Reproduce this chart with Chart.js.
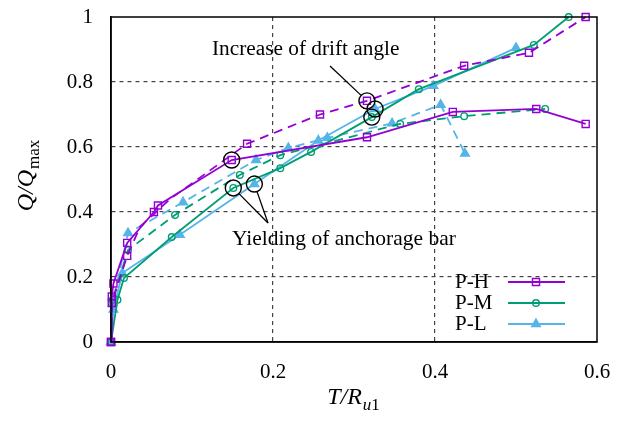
<!DOCTYPE html>
<html lang="en">
<head>
<meta charset="UTF-8">
<title>Q/Qmax vs T/Ru1</title>
<script src="https://cdn.jsdelivr.net/npm/chart.js"></script>
<style>
  html, body { margin: 0; padding: 0; background: #fff; }
  #wrap { width: 624px; height: 421px; }
</style>
</head>
<body>
<div id="wrap"><canvas id="myChart" width="624" height="421"></canvas></div>
<script>
// data: [T/Ru1, Q/Qmax]
const hPos = [[0,0],[0.001,0.14],[0.003,0.18],[0.02,0.305],[0.053,0.40],[0.058,0.42],[0.149,0.56],[0.316,0.63],[0.422,0.708],[0.525,0.717],[0.586,0.671]];
const hNeg = [[0,0],[0.001,0.12],[0.02,0.265],[0.036,0.355],[0.073,0.44],[0.168,0.61],[0.258,0.70],[0.316,0.742],[0.436,0.85],[0.516,0.89],[0.586,1.0]];
const mPos = [[0,0],[0.008,0.13],[0.016,0.197],[0.075,0.323],[0.151,0.474],[0.209,0.535],[0.247,0.585],[0.322,0.692],[0.38,0.778],[0.522,0.914],[0.565,1.0]];
const mNeg = [[0,0],[0.002,0.13],[0.021,0.283],[0.079,0.391],[0.159,0.514],[0.209,0.575],[0.357,0.671],[0.436,0.695],[0.536,0.717]];
const lPos = [[0,0],[0.003,0.10],[0.014,0.212],[0.085,0.33],[0.177,0.486],[0.256,0.62],[0.326,0.717],[0.398,0.788],[0.5,0.905]];
const lNeg = [[0,0],[0.002,0.12],[0.021,0.335],[0.089,0.43],[0.179,0.56],[0.219,0.597],[0.267,0.628],[0.347,0.673],[0.407,0.73],[0.437,0.58]];
// dashed P-H points drawn without marker
const hNegNoMark = [3, 4];

const names = ['P-H', 'P-M', 'P-L'];
const xTicks = [0, 0.2, 0.4, 0.6];
const yTicks = [0, 0.2, 0.4, 0.6, 0.8, 1];

// annotated points
const yieldPts = [[0.149,0.56],[0.151,0.474],[0.177,0.486]];
const driftPts = [[0.316,0.742],[0.326,0.717],[0.322,0.692]];
const yieldText = 'Yielding of anchorage bar';
const driftText = 'Increase of drift angle';

const colors = ['#9400d3', '#009e73', '#56b4e9'];
const marks = ['rect', 'circle', 'triangle'];
const serif = '"Liberation Serif", "Times New Roman", serif';

function toXY(arr) { return arr.map(p => ({x: p[0], y: p[1]})); }

function markSize(i) { return marks[i] === 'rect' ? 5 : marks[i] === 'circle' ? 3.3 : 5; }

function makeSet(arr, i, dashed, noMark) {
  const filled = marks[i] === 'triangle';
  return {
    label: names[i] + (dashed ? ' neg' : ''),
    data: toXY(arr),
    showLine: true,
    borderColor: colors[i],
    borderWidth: 1.8,
    borderDash: dashed ? [9, 6] : [],
    pointStyle: marks[i],
    pointRadius: noMark ? (c => noMark.includes(c.dataIndex) ? 0 : markSize(i)) : markSize(i),
    pointBorderWidth: 1.4,
    pointBorderColor: colors[i],
    pointBackgroundColor: filled ? colors[i] : 'rgba(0,0,0,0)',
    clip: false
  };
}

const extras = {
  id: 'extras',
  afterDraw(chart) {
    const ctx = chart.ctx;
    const a = chart.chartArea;
    const xs = chart.scales.x, ys = chart.scales.y;
    ctx.save();
    // top & right frame
    ctx.strokeStyle = '#000';
    ctx.lineWidth = 1.5;
    ctx.strokeRect(a.left, a.top, a.right - a.left, a.bottom - a.top);

    // annotation circles
    ctx.lineWidth = 1.4;
    const circ = [];
    yieldPts.concat(driftPts).forEach(p => {
      const cx = xs.getPixelForValue(p[0]), cy = ys.getPixelForValue(p[1]);
      circ.push([cx, cy]);
      ctx.beginPath();
      ctx.arc(cx, cy, 8, 0, Math.PI * 2);
      ctx.stroke();
    });
    // pointer lines
    ctx.lineWidth = 1.3;
    const yBase = [268, 223];
    [circ[1], circ[2]].forEach(c => {
      const dx = c[0] - yBase[0], dy = c[1] - yBase[1];
      const d = Math.hypot(dx, dy);
      ctx.beginPath();
      ctx.moveTo(yBase[0], yBase[1]);
      ctx.lineTo(c[0] - dx / d * 8, c[1] - dy / d * 8);
      ctx.stroke();
    });
    const dc = circ[3];
    const dBase = [330, 66];
    {
      const dx = dc[0] - dBase[0], dy = dc[1] - dBase[1];
      const d = Math.hypot(dx, dy);
      ctx.beginPath();
      ctx.moveTo(dBase[0], dBase[1]);
      ctx.lineTo(dc[0] - dx / d * 8, dc[1] - dy / d * 8);
      ctx.stroke();
    }
    ctx.fillStyle = '#000';
    ctx.textAlign = 'left';
    ctx.textBaseline = 'middle';
    ctx.font = '21.3px ' + serif;
    ctx.fillText(driftText, 212, 49);
    ctx.font = '21.5px ' + serif;
    ctx.fillText(yieldText, 232, 239);

    // legend
    const rows = [282, 303, 324];
    names.forEach((n, i) => {
      ctx.fillStyle = '#000';
      ctx.font = '21px ' + serif;
      ctx.fillText(n, 455, rows[i]);
      ctx.strokeStyle = colors[i];
      ctx.lineWidth = 1.8;
      ctx.setLineDash([]);
      ctx.beginPath();
      ctx.moveTo(508, rows[i]);
      ctx.lineTo(565, rows[i]);
      ctx.stroke();
      ctx.fillStyle = marks[i] === 'triangle' ? colors[i] : 'rgba(0,0,0,0)';
      ctx.lineWidth = 1.4;
      Chart.helpers.drawPoint(ctx, {
        pointStyle: marks[i],
        radius: markSize(i),
        borderWidth: 1.4
      }, 536, rows[i]);
    });

    // axis titles
    ctx.fillStyle = '#000';
    ctx.textBaseline = 'alphabetic';
    const big = 'italic 24px ' + serif, sub = 'italic 17px ' + serif, subUp = '17px ' + serif;
    // x title: T/R_u1
    ctx.font = big;
    const w1 = ctx.measureText('T/R').width;
    ctx.font = sub;
    const w2 = ctx.measureText('u').width;
    ctx.font = subUp;
    const w3 = ctx.measureText('1').width;
    const x0 = 353 - (w1 + w2 + w3) / 2;
    const bx = 404;
    ctx.font = big; ctx.fillText('T/R', x0, bx);
    ctx.font = sub; ctx.fillText('u', x0 + w1 + 1, bx + 6);
    ctx.font = subUp; ctx.fillText('1', x0 + w1 + 1 + w2, bx + 6);

    // y title: Q/Q_max
    ctx.translate(33, 176);
    ctx.rotate(-Math.PI / 2);
    ctx.font = big;
    const v1 = ctx.measureText('Q/Q').width;
    ctx.font = subUp;
    const v2 = ctx.measureText('max').width;
    const y0 = -(v1 + v2) / 2;
    ctx.font = big; ctx.fillText('Q/Q', y0, 0);
    ctx.font = subUp; ctx.fillText('max', y0 + v1 + 1, 6);
    ctx.restore();
  }
};

function gridColor(max) {
  return c => (c.tick.value === 0 || Math.abs(c.tick.value - max) < 1e-9) ? 'rgba(0,0,0,0)' : '#444';
}

function zeroPad(s) { s.paddingTop = 0; s.paddingBottom = 0; s.paddingLeft = 0; s.paddingRight = 0; }

const ctx = document.getElementById('myChart').getContext('2d');
const myChart = new Chart(ctx, {
  type: 'scatter',
  data: {
    datasets: [
      makeSet(hPos, 0, false),
      makeSet(hNeg, 0, true, hNegNoMark),
      makeSet(mPos, 1, false),
      makeSet(mNeg, 1, true),
      makeSet(lPos, 2, false),
      makeSet(lNeg, 2, true)
    ]
  },
  options: {
    responsive: false,
    animation: false,
    layout: { padding: { left: 0, right: 27, top: 17, bottom: 0 } },
    plugins: { legend: { display: false }, tooltip: { enabled: false } },
    scales: {
      x: {
        type: 'linear', min: 0, max: 0.6,
        afterBuildTicks: s => { s.ticks = xTicks.map(v => ({value: v})); },
        afterFit: s => { s.height = 79; zeroPad(s); },
        ticks: {
          color: '#000', padding: 18,
          font: { family: serif, size: 21 },
          callback: v => String(+v.toFixed(1))
        },
        grid: { color: gridColor(0.6), lineWidth: 1.2, drawTicks: false },
        border: { color: '#000', width: 1.5, dash: [4, 4] }
      },
      y: {
        type: 'linear', min: 0, max: 1,
        afterBuildTicks: s => { s.ticks = yTicks.map(v => ({value: v})); },
        afterFit: s => { s.width = 111; zeroPad(s); },
        ticks: {
          color: '#000', padding: 18,
          font: { family: serif, size: 21 },
          callback: v => String(+v.toFixed(1))
        },
        grid: { color: gridColor(1), lineWidth: 1.2, drawTicks: false },
        border: { color: '#000', width: 1.5, dash: [4, 4] }
      }
    }
  },
  plugins: [extras]
});
</script>
</body>
</html>
